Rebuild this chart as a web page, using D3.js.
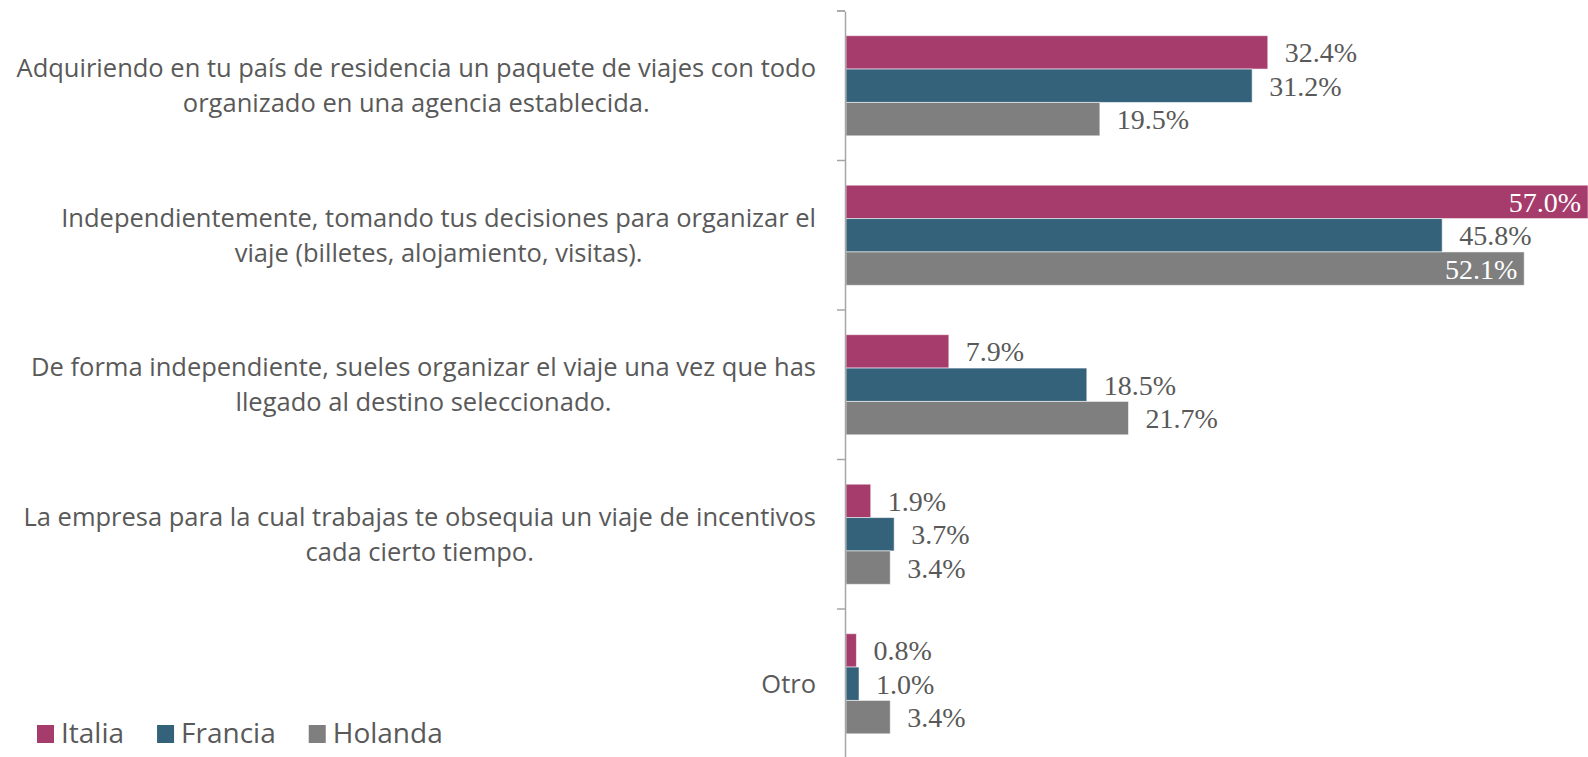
<!DOCTYPE html>
<html>
<head>
<meta charset="utf-8">
<script src="https://cdn.jsdelivr.net/npm/d3@7"></script>
<style>
  html, body { margin: 0; padding: 0; background: #fff; }
  svg { display: block; }
</style>
</head>
<body>
<div id="chart"></div>
<script>
const categories = [
  'Adquiriendo en tu país de residencia un paquete de viajes con todo\norganizado en una agencia establecida.',
  'Independientemente, tomando tus decisiones para organizar el\nviaje (billetes, alojamiento, visitas).',
  'De forma independiente, sueles organizar el viaje una vez que has\nllegado al destino seleccionado.',
  'La empresa para la cual trabajas te obsequia un viaje de incentivos\ncada cierto tiempo.',
  'Otro'
];
const seriesNames = ['Italia', 'Francia', 'Holanda'];
const italia  = [32.4, 57.0, 7.9, 1.9, 0.8];
const francia = [31.2, 45.8, 18.5, 3.7, 1.0];
const holanda = [19.5, 52.1, 21.7, 3.4, 3.4];
const colors = ['#A63C6C', '#34627A', '#7F7F7F'];

const width = 1588, height = 757;
const allSeries = [italia, francia, holanda];

const svg = d3.select('#chart').append('svg')
  .attr('width', width)
  .attr('height', height);

const axisX = 845;
const y0 = d3.scaleBand().domain(categories).range([11, 758.5]).padding(0);
const y1 = d3.scaleBand().domain(seriesNames).range([0, y0.bandwidth()])
  .paddingInner(0).paddingOuter(0.74);
const x = d3.scaleLinear()
  .domain([0, d3.max(allSeries, s => d3.max(s))])
  .range([axisX + 1, width]);

const fmt = d3.format('.1f');

// barras
categories.forEach((cat, ci) => {
  const g = svg.append('g').attr('transform', 'translate(0,' + y0(cat) + ')');
  seriesNames.forEach((name, si) => {
    const v = allSeries[si][ci];
    g.append('rect')
      .attr('x', x(0))
      .attr('y', y1(name))
      .attr('width', x(v) - x(0))
      .attr('height', y1.bandwidth())
      .attr('fill', colors[si])
      .attr('stroke', '#ffffff')
      .attr('stroke-opacity', 0.55)
      .attr('stroke-width', 1);

    const t = g.append('text')
      .attr('y', y1(name) + y1.bandwidth() / 2 + 10)
      .style('font-family', '"Liberation Serif", serif')
      .style('font-size', '28px')
      .text(fmt(v) + '%');
    const tw = t.node().getComputedTextLength();
    if (x(v) + 17 + tw > width) {
      t.attr('x', x(v) - 7).attr('text-anchor', 'end').attr('fill', '#ffffff');
    } else {
      t.attr('x', x(v) + 17).attr('fill', '#595959');
    }
  });
});

// eje vertical
const axis = d3.axisLeft(y0).tickSize(8).tickFormat('').tickSizeOuter(0);
const axisG = svg.append('g').attr('transform', 'translate(' + axisX + ',0)');
axisG.call(axis);
axisG.selectAll('.tick line').attr('transform', 'translate(0,' + (-y0.bandwidth() / 2) + ')');
axisG.append('line').attr('x1', 0).attr('x2', -8)
  .attr('y1', y0.range()[0]).attr('y2', y0.range()[0]);
axisG.selectAll('line').attr('stroke', '#A6A6A6').attr('stroke-width', 1.5);
axisG.select('.domain').attr('stroke', '#A6A6A6').attr('stroke-width', 1.5);

// etiquetas de categoría
const labelRight = 816;
const lineH = 35;
categories.forEach(cat => {
  const lines = cat.split('\n');
  const txt = svg.append('text')
    .style('font-family', '"Open Sans", sans-serif')
    .style('font-size', '25.5px')
    .attr('fill', '#595959')
    .attr('text-anchor', 'middle');
  const cy = y0(cat) + y0.bandwidth() / 2;
  const first = cy - (lines.length - 1) * lineH / 2 + 9;
  const spans = lines.map((l, i) => txt.append('tspan').attr('y', first + i * lineH).text(l));
  const blockW = d3.max(spans, s => s.node().getComputedTextLength());
  spans.forEach(s => s.attr('x', labelRight - blockW / 2));
});

// leyenda
const legend = svg.append('g').attr('transform', 'translate(37,725)');
let lx = 0;
seriesNames.forEach((name, i) => {
  legend.append('rect').attr('x', lx).attr('y', 0).attr('width', 17).attr('height', 18)
    .attr('fill', colors[i]);
  const t = legend.append('text').attr('x', lx + 24).attr('y', 18)
    .style('font-family', '"Open Sans", sans-serif')
    .style('font-size', '28px')
    .attr('fill', '#595959')
    .text(name);
  lx += 24 + t.node().getComputedTextLength() + 33;
});
</script>
</body>
</html>
